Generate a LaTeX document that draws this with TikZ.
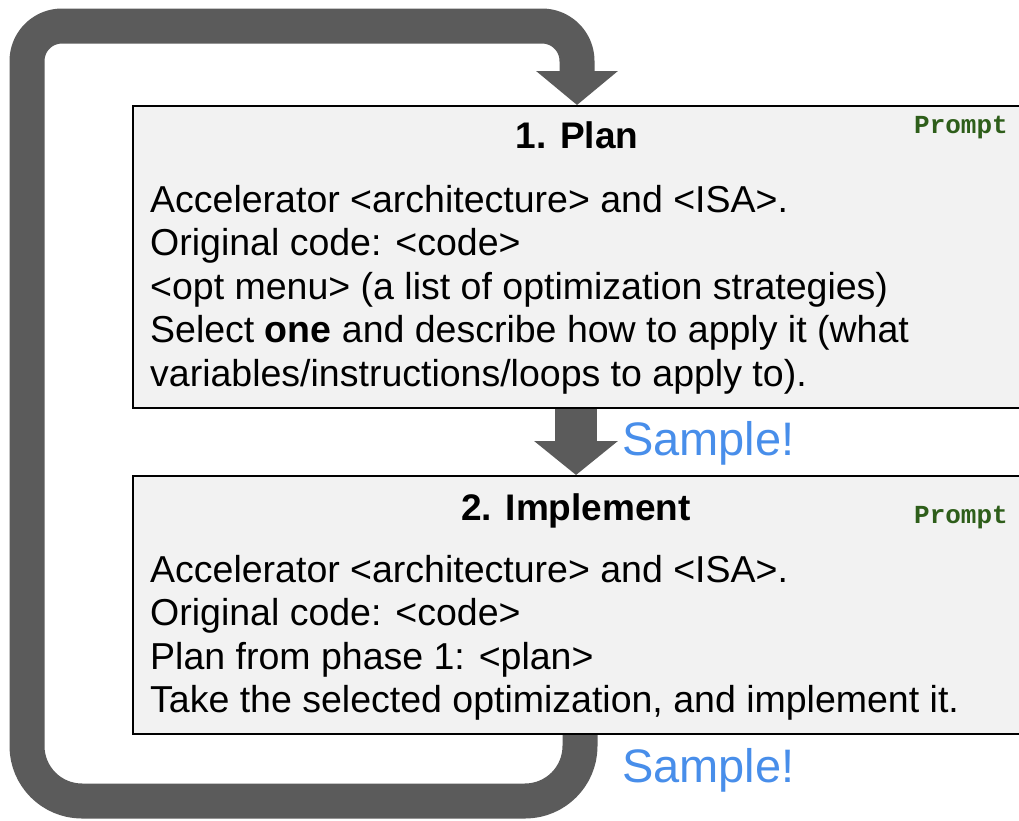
\documentclass[tikz,border=0pt]{standalone}
\usepackage{fontspec}
\setmainfont{Liberation Sans}
\newfontfamily\promptfont{Liberation Mono}
\usetikzlibrary{arrows.meta}
\definecolor{loopgray}{RGB}{91,91,91}
\definecolor{boxfill}{RGB}{242,242,242}
\definecolor{sampleblue}{RGB}{72,142,234}
\definecolor{promptgreen}{RGB}{46,94,26}
\tikzset{
  box/.style={draw=black, line width=2pt, fill=boxfill, anchor=north west, inner sep=0pt},
  bodytext/.style={anchor=base west, inner sep=0pt, font=\fontsize{37.5}{43.5}\selectfont},
  titletext/.style={anchor=base, inner sep=0pt, font=\fontsize{37}{43}\selectfont\bfseries},
  prompttext/.style={anchor=base east, inner sep=0pt, text=promptgreen, font=\fontsize{26}{28}\selectfont\promptfont\bfseries},
  sampletext/.style={anchor=base west, inner sep=0pt, text=sampleblue, font=\fontsize{47}{50}\selectfont},
  loopline/.style={draw=loopgray, line width=35pt, line cap=butt, line join=round, -{Triangle[width=80pt,length=34pt]}},
  midarrow/.style={draw=loopgray, line width=42pt, -{Triangle[width=82pt,length=34pt]}}
}
\begin{document}
\begin{tikzpicture}[x=1pt,y=-1pt]
\useasboundingbox (0,0) rectangle (1019,820);
\clip (0,0) rectangle (1019,820);
% loop corner coordinates
\coordinate (loopstart) at (580,700);
\coordinate (br) at (580,801);
\coordinate (bl) at (27,801);
\coordinate (tl) at (27,26);
\coordinate (tr) at (577,26);
\coordinate (midx) at (576,0);
\coordinate (loopend) at (577,105);
% loop connector from phase 2 back to phase 1 (drawn first, behind boxes)
\draw[loopline, rounded corners=55pt] (loopstart) -- (br) -- (bl) [rounded corners=35pt] -- (tl) -- (tr) -- (loopend);
% boxes
\node[box, minimum width=920pt, minimum height=302pt] (plan) at (132,105) {};
\node[box, minimum width=920pt, minimum height=258pt] (impl) at (132,475) {};
% middle arrow
\draw[midarrow] (midx |- plan.south) -- (midx |- impl.north);
% titles
\node[titletext] (t1) at (577,148) {1. Plan};
\node[titletext] (t2) at (576,520) {2. Implement};
\node[prompttext] (p1) at (1008,133) {Prompt};
\node[prompttext] (p2) at (1008,523) {Prompt};
% body 1
\node[bodytext] (a1) at (150,212) {Accelerator <architecture> and <ISA>.};
\node[bodytext] (a2) at (150,255.5) {Original code: <code>};
\node[bodytext] (a3) at (150,299) {<opt menu> (a list of optimization strategies)};
\node[bodytext] (a4) at (150,342.5) {Select \textbf{one} and describe how to apply it (what};
\node[bodytext] (a5) at (150,386) {variables/instructions/loops to apply to).};
% body 2
\node[bodytext] (b1) at (150,582) {Accelerator <architecture> and <ISA>.};
\node[bodytext] (b2) at (150,625.5) {Original code: <code>};
\node[bodytext] (b3) at (150,669) {Plan from phase 1: <plan>};
\node[bodytext] (b4) at (150,712.5) {Take the selected optimization, and implement it.};
% sample labels
\node[sampletext] (s1) at (622,455) {Sample!};
\node[sampletext] (s2) at (622,782) {Sample!};
\end{tikzpicture}
\end{document}
